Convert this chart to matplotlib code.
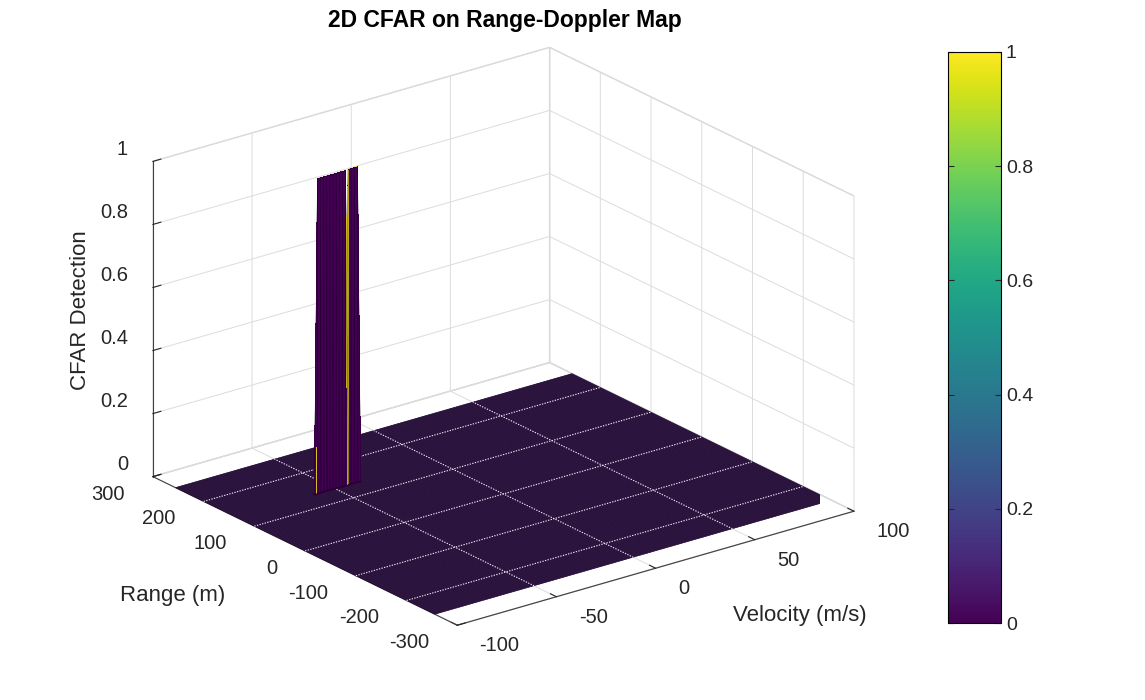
import numpy as np
import matplotlib
matplotlib.use("Agg")
import matplotlib.pyplot as plt
from matplotlib import cm
from matplotlib.colors import Normalize
from mpl_toolkits.mplot3d import proj3d

plt.rcParams["font.family"] = ["Liberation Sans", "DejaVu Sans"]
plt.rcParams["axes.unicode_minus"] = False

# Range-Doppler grid (FMCW radar exercise: Nd = 128, Nr/2 = 512)
velocity_axis = np.linspace(-100, 100, 128)   # m/s
range_axis = np.linspace(-256, 256, 512)      # m

# CFAR detections: (range, first velocity, last velocity)
detections = [
    (136.0, -60.0, -44.0),
    (137.0, -43.0, -39.0),
]

velocity_ticks = [-100, -50, 0, 50, 100]
range_ticks = [-300, -200, -100, 0, 100, 200, 300]
z_ticks = [0, 0.2, 0.4, 0.6, 0.8, 1]
z_ticklabels = ["0", "0.2", "0.4", "0.6", "0.8", "1"]
cbar_ticks = [0, 0.2, 0.4, 0.6, 0.8, 1]

VLIM = (-100, 100)
RLIM = (-300, 300)
ZLIM = (0, 1)
TXT = "#262626"

# build the detection map
cfar = np.zeros((range_axis.size, velocity_axis.size))
for rng, v_lo, v_hi in detections:
    r_i = np.argmin(np.abs(range_axis - rng))
    sel = (velocity_axis >= v_lo - 0.5) & (velocity_axis <= v_hi + 0.5)
    cfar[r_i, sel] = 1.0

V, R = np.meshgrid(velocity_axis, range_axis)
face_cols = cm.viridis(cfar)

fig = plt.figure(figsize=(11.45, 7.0), dpi=100)
ax = fig.add_axes([0.022, 0.042, 0.82, 0.93], projection="3d")
ax.set_proj_type("ortho")
ax.computed_zorder = False

# whole map
ax.plot_surface(V, R, cfar, facecolors=face_cols, rstride=1, cstride=1,
                shade=False, edgecolor=(0.08, 0.06, 0.16, 0.7), linewidth=0.25,
                antialiased=True, zorder=2)

# floor grid lines show through the flat surface, like in the original
for r in range_ticks:
    if range_axis[0] <= r <= range_axis[-1]:
        ax.plot([velocity_axis[0], velocity_axis[-1]], [r, r], [0, 0],
                color="#f3e8f8", lw=0.8, ls=(0, (1.2, 1.2)), zorder=3)
for v in velocity_ticks:
    if velocity_axis[0] < v < velocity_axis[-1]:
        ax.plot([v, v], [range_axis[0], range_axis[-1]], [0, 0],
                color="#f3e8f8", lw=0.8, ls=(0, (1.2, 1.2)), zorder=3)

# detected cells redrawn on top without anti-aliasing seams
rows = np.where(cfar.any(axis=1))[0]
cols = np.where(cfar.any(axis=0))[0]
r0, r1 = rows.min() - 1, rows.max() + 2
c0, c1 = cols.min() - 1, cols.max() + 2
ax.plot_surface(V[r0:r1, c0:c1], R[r0:r1, c0:c1], cfar[r0:r1, c0:c1],
                facecolors=face_cols[r0:r1, c0:c1], rstride=1, cstride=1,
                shade=False, linewidth=0, antialiased=False, zorder=4)
ax.plot_wireframe(V[r0:r1, c0:c1], R[r0:r1, c0:c1], cfar[r0:r1, c0:c1],
                  rstride=1, cstride=1, color="#0a0012", linewidth=0.4,
                  alpha=0.5, zorder=5)

ax.set_xlim(*VLIM)
ax.set_ylim(*RLIM)
ax.set_zlim(*ZLIM)
ax.set_xticks(velocity_ticks)
ax.set_yticks(range_ticks)
ax.set_zticks(z_ticks)
ax.view_init(elev=22, azim=-127.5)
ax.set_box_aspect((1, 1, 0.68), zoom=1.17)

for axis in (ax.xaxis, ax.yaxis, ax.zaxis):
    axis.set_pane_color((1, 1, 1, 1))
    axis.pane.set_edgecolor("#d9d9d9")
    axis._axinfo["grid"].update(color="#dcdcdc", linewidth=0.7)
    axis._axinfo["tick"].update(inward_factor=0.0, outward_factor=0.25)
    axis.line.set_color("#404040")
    axis.line.set_linewidth(0.8)
    axis.set_tick_params(label1On=False, label2On=False)
ax.tick_params(colors=TXT)

# tick labels set out along the tick direction, Octave style; placed as
# plain figure text at the projected 3D point
fig.canvas.draw()


def label_at(x, y, z, s, **kw):
    xp, yp, _ = proj3d.proj_transform(x, y, z, ax.M)
    px, py = ax.transData.transform((xp, yp))
    fig.text(px / fig.bbox.width, py / fig.bbox.height, s, **kw)


lkw = dict(va="center", fontsize=14.5, color=TXT)
for t in range_ticks:
    label_at(VLIM[0] - 14, t, ZLIM[0] - 0.03, str(t), ha="right", **lkw)
for t in velocity_ticks:
    label_at(t, RLIM[0] - 44, ZLIM[0] - 0.03, str(t), ha="left", **lkw)
for t, lab in zip(z_ticks, z_ticklabels):
    label_at(VLIM[0], RLIM[1] + 49, t, lab, ha="right", **lkw)

fig.text(800 / 1145, 1 - 615 / 700, "Velocity (m/s)", fontsize=16,
         ha="center", va="center", color=TXT)
fig.text(173 / 1145, 1 - 595 / 700, "Range (m)", fontsize=16,
         ha="center", va="center", color=TXT)
fig.text(80 / 1145, 1 - 310 / 700, "CFAR Detection", fontsize=16,
         rotation=90, ha="center", va="center", color=TXT)
fig.text(505 / 1145, 1 - 20 / 700, "2D CFAR on Range-Doppler Map",
         fontsize=16.5, fontweight="bold", ha="center", va="center")

cax = fig.add_axes([0.828, 0.11, 0.0463, 0.816])
sm = cm.ScalarMappable(norm=Normalize(0, 1), cmap="viridis")
cb = fig.colorbar(sm, cax=cax, ticks=cbar_ticks)
cb.ax.set_yticklabels(z_ticklabels)
cb.ax.yaxis.set_ticks_position("both")
cb.ax.tick_params(labelsize=14, direction="in", length=4, colors=TXT,
                  labelleft=False, labelright=True)
cb.outline.set_linewidth(0.8)

fig.savefig("out.png", dpi=100)
